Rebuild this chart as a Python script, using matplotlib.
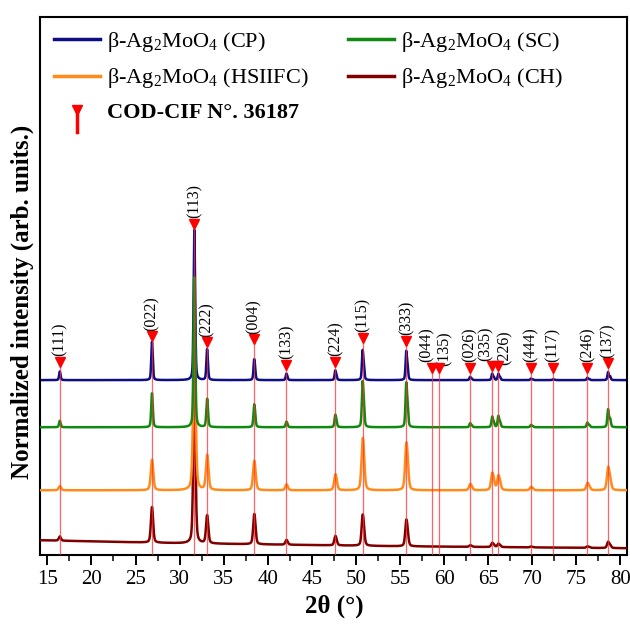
import numpy as np
import matplotlib.pyplot as plt
from matplotlib.lines import Line2D
from matplotlib.legend_handler import HandlerBase
from matplotlib.ticker import MultipleLocator

plt.rcParams['font.family'] = ['Liberation Serif', 'DejaVu Serif']
plt.rcParams['mathtext.fontset'] = 'custom'
plt.rcParams['mathtext.rm'] = 'Liberation Serif'

# reference (COD-CIF 36187) reflections
hkl = ['(111)', '(022)', '(113)', '(222)', '(004)', '(133)', '(224)', '(115)', '(333)',
       '(044)', '(135)', '(026)', '(335)', '(226)', '(444)', '(117)', '(246)', '(137)']
ref_pos = [16.4, 26.85, 31.65, 33.1, 38.45, 42.1, 47.65, 50.75, 55.7,
           58.6, 59.45, 62.95, 65.45, 66.15, 69.85, 72.35, 76.25, 78.6]
ref_mark = [1.29, 1.46, 2.21, 1.42, 1.44, 1.27, 1.29, 1.45, 1.43,
            1.25, 1.25, 1.25, 1.26, 1.26, 1.25, 1.25, 1.25, 1.28]

# relative peak intensities (113 normalised to 1)
cp_int = [0.053, 0.247, 1.0, 0.207, 0.147, 0.047, 0.073, 0.23, 0.23,
          0.0, 0.0, 0.027, 0.053, 0.053, 0.013, 0.007, 0.02, 0.067]
sc_int = [0.04, 0.22, 1.0, 0.19, 0.16, 0.04, 0.093, 0.35, 0.35,
          0.0, 0.0, 0.033, 0.087, 0.093, 0.02, 0.0, 0.04, 0.153]
hs_int = [0.027, 0.2, 1.0, 0.233, 0.2, 0.04, 0.113, 0.373, 0.35,
          0.0, 0.0, 0.047, 0.133, 0.113, 0.027, 0.0, 0.06, 0.193]
ch_int = [0.027, 0.233, 1.0, 0.187, 0.207, 0.033, 0.067, 0.227, 0.2,
          0.0, 0.0, 0.013, 0.033, 0.027, 0.007, 0.0, 0.013, 0.053]

# vertical offsets (baselines)
cp_base = 1.167
sc_base = 0.853
hs_base = 0.433
ch_bg_x = [14.2, 30, 55, 80.8]
ch_bg_y = [0.10, 0.08, 0.06, 0.047]

widths = {'CP': 0.18, 'SC': 0.2, 'HSIIFC': 0.32, 'CH': 0.28}

x = np.linspace(14.2, 80.8, 5000)


def pattern(intens, w):
    y = np.zeros_like(x)
    for p, a in zip(ref_pos, intens):
        if a <= 0:
            continue
        # K-alpha1 + K-alpha2 doublet
        p2 = p + np.degrees(2 * np.tan(np.radians(p / 2)) * 0.0025)
        for c, amp in ((p, a), (p2, 0.45 * a)):
            g = np.exp(-4 * np.log(2) * ((x - c) / w) ** 2)
            l = 1 / (1 + 4 * ((x - c) / w) ** 2)
            y += amp * (0.6 * g + 0.4 * l)
    return y / y.max()


fig = plt.figure(figsize=(6.3, 6.26), dpi=100)
ax = fig.add_axes([0.064, 0.113, 0.932, 0.86])

lab_cp = r'$\mathrm{\beta}$-Ag$_2$MoO$_4$ (CP)'
lab_sc = r'$\mathrm{\beta}$-Ag$_2$MoO$_4$ (SC)'
lab_hs = r'$\mathrm{\beta}$-Ag$_2$MoO$_4$ (HSIIFC)'
lab_ch = r'$\mathrm{\beta}$-Ag$_2$MoO$_4$ (CH)'

l_cp, = ax.plot(x, pattern(cp_int, widths['CP']) + cp_base, color='#0d0d85', lw=1.8, zorder=2)
l_ch, = ax.plot(x, pattern(ch_int, widths['CH']) + np.interp(x, ch_bg_x, ch_bg_y),
                color='#800000', lw=1.8, zorder=3)
l_hs, = ax.plot(x, pattern(hs_int, widths['HSIIFC']) + hs_base, color='#ff8c1a', lw=1.8, zorder=4)
l_sc, = ax.plot(x, pattern(sc_int, widths['SC']) + sc_base, color='#108a10', lw=1.8, zorder=5)

# small nudges (points) for crowded labels
nudge = {'(044)': (-4, 0), '(135)': (4, -3), '(335)': (-4.5, 0), '(226)': (4.5, -3)}

# reference sticks
for p, m, t in zip(ref_pos, ref_mark, hkl):
    ax.plot([p, p], [0, m], color='#ff3030', lw=0.9, alpha=0.75, zorder=6)
    ax.plot(p, m, marker='v', color='red', ms=7, zorder=7)
    dx, dy = nudge.get(t, (0, 0))
    ax.annotate(t, (p, m), xytext=(dx, 4 + dy), textcoords='offset points', rotation=90,
                ha='center', va='bottom', fontsize=11.5)


class StickHandler(HandlerBase):
    def create_artists(self, legend, orig, xd, yd, w, h, fontsize, trans):
        cx = xd + w / 2
        stem = Line2D([cx, cx], [yd - h * 0.9, yd + h * 0.5], color='red', lw=1,
                      transform=trans)
        tri = Line2D([cx], [yd + h * 0.5], marker='v', color='red', ms=7, transform=trans)
        return [stem, tri]


stick = Line2D([], [], color='red')
handles = [l_cp, l_hs, stick, l_sc, l_ch]
labels = [lab_cp, lab_hs, 'COD-CIF N°. 36187', lab_sc, lab_ch]
leg = ax.legend(handles, labels, ncol=2, loc='upper left', bbox_to_anchor=(0.0, 1.0),
                frameon=False, fontsize=16, handlelength=2.1, handletextpad=0.3,
                columnspacing=1.75, labelspacing=0.55, borderpad=0.1,
                handler_map={stick: StickHandler()})
for ln in leg.get_lines():
    ln.set_linewidth(2.5)
leg.get_texts()[2].set_fontweight('bold')

ax.set_xlim(14.2, 80.8)
ax.set_ylim(0, 3.587)
ax.xaxis.set_major_locator(MultipleLocator(5))
ax.xaxis.set_minor_locator(MultipleLocator(2.5))
ax.tick_params(axis='x', which='major', direction='out', length=7, width=1.4, labelsize=15)
ax.tick_params(axis='x', which='minor', direction='out', length=4, width=1.1)
ax.set_yticks([])
for s in ax.spines.values():
    s.set_linewidth(1.5)

ax.set_xlabel('2θ (°)', fontsize=18, fontweight='bold', labelpad=4)
ax.set_ylabel('Normalized intensity (arb. units.)', fontsize=18, fontweight='bold')
ax.yaxis.set_label_coords(-0.01, 0.47)

fig.savefig('out.png', dpi=100)
